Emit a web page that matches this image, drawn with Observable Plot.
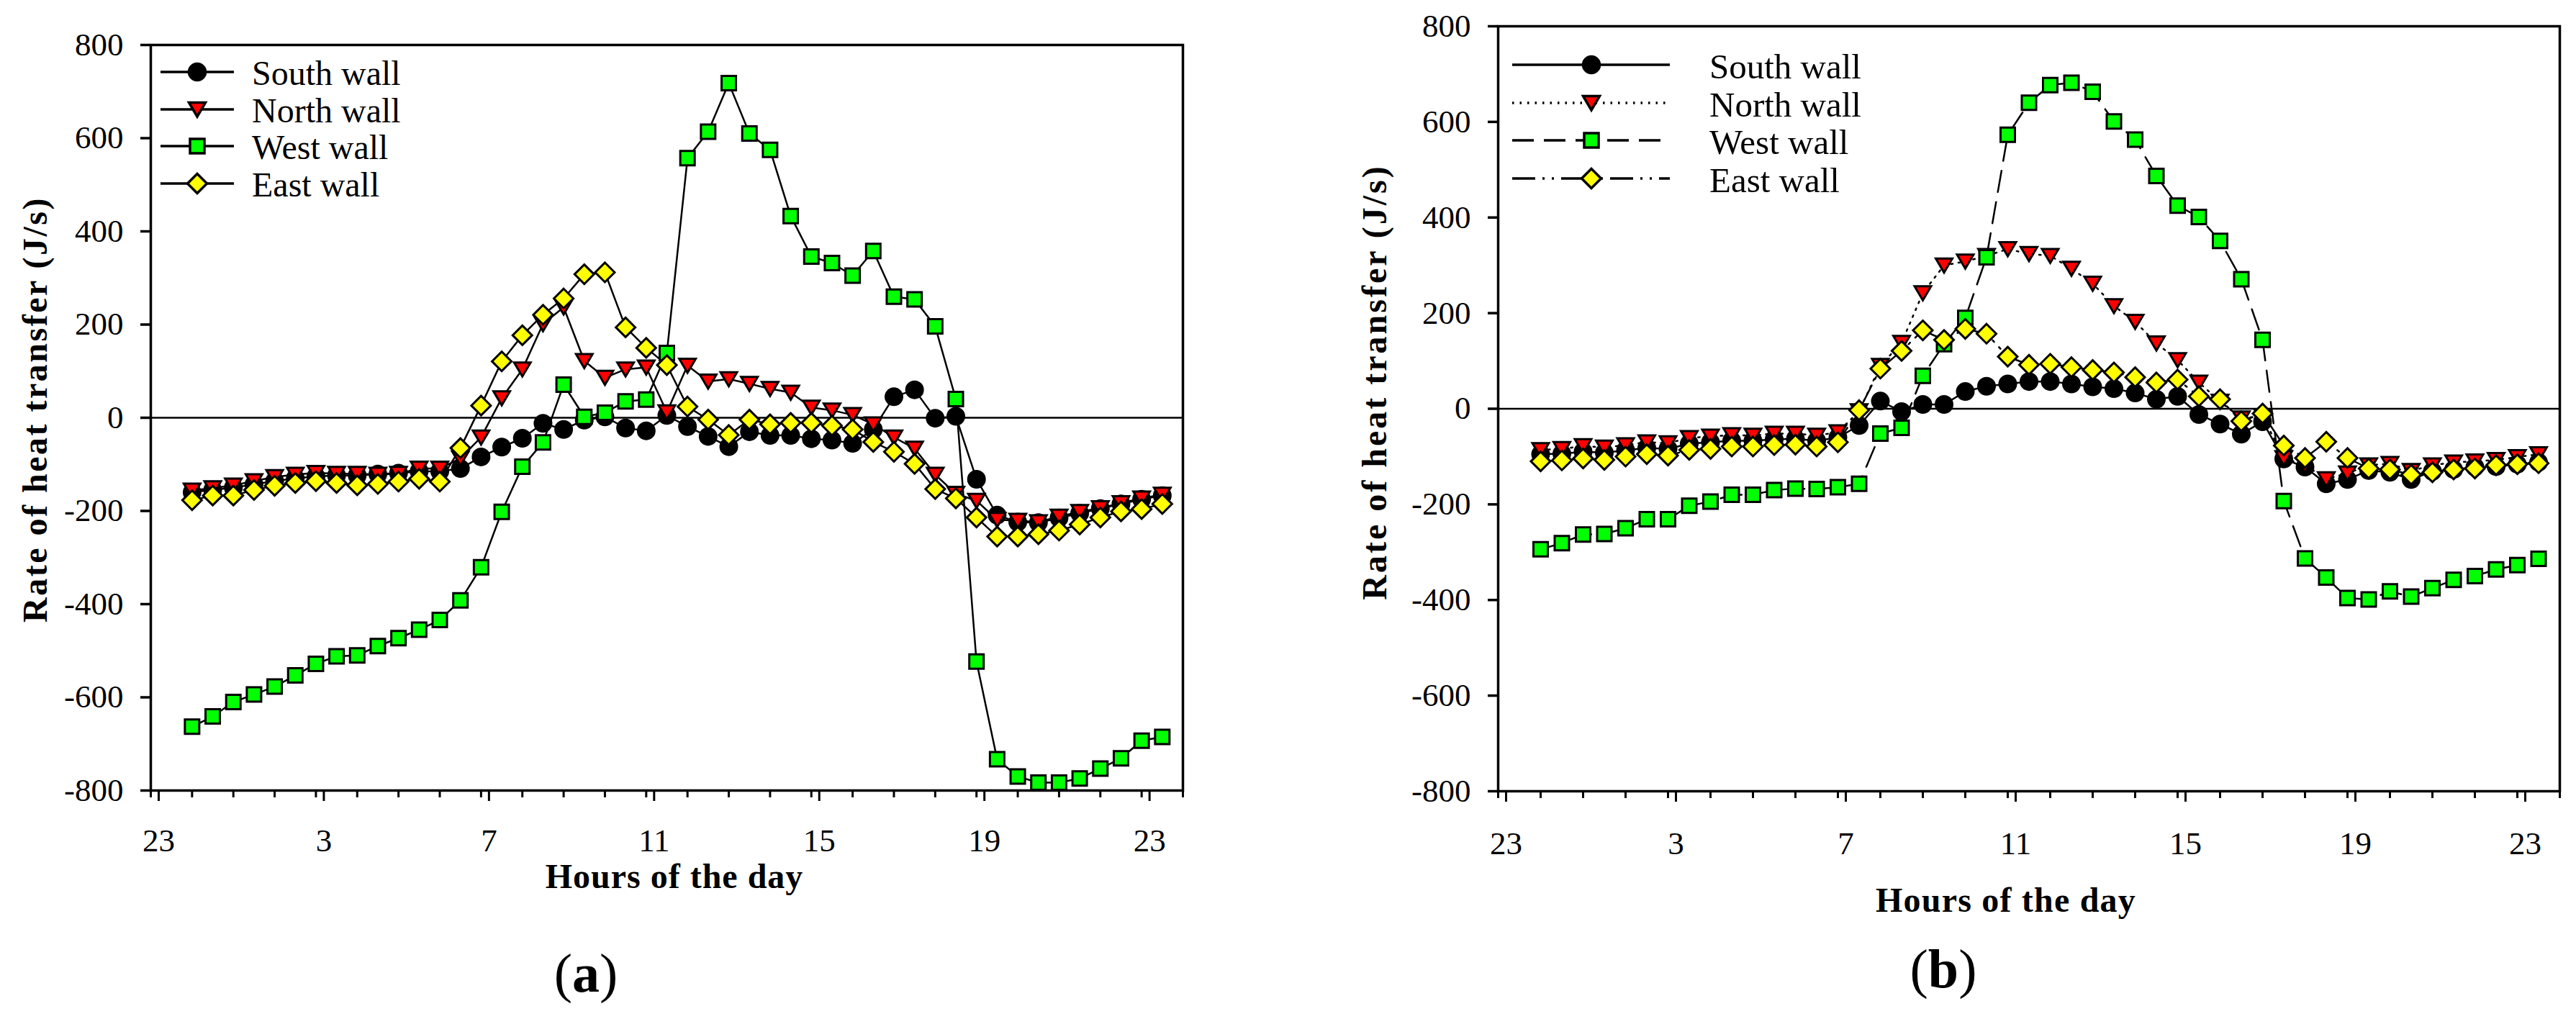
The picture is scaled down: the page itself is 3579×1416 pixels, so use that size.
<!DOCTYPE html>
<html>
<head>
<meta charset="utf-8">
<script src="https://cdn.jsdelivr.net/npm/d3@7"></script>
<script src="https://cdn.jsdelivr.net/npm/@observablehq/plot@0.6"></script>
<style>
html, body { margin: 0; padding: 0; background: #fff; width: 3579px; height: 1416px; overflow: hidden; font-family: "Liberation Serif", "DejaVu Serif", serif; }
.abs { position: absolute; white-space: nowrap; color: #000; line-height: 1; font-family: "Liberation Serif", "DejaVu Serif", serif; }
.title { font-weight: bold; }
svg { overflow: visible; }
svg text { font-family: "Liberation Serif", "DejaVu Serif", serif; }
</style>
</head>
<body>
<div id="panelA" class="abs" style="left:0px;top:0px"></div>
<div id="panelB" class="abs" style="left:1750px;top:0px"></div>
<svg id="legend" class="abs" style="left:0;top:0" width="3579" height="1416"></svg>
<div class="abs title" style="left:49px;top:569px;font-size:48px;letter-spacing:2.5px;transform:translate(-50%,-50%) rotate(-90deg)">Rate of heat transfer (J/s)</div>
<div class="abs title" style="left:937px;top:1218px;font-size:48px;letter-spacing:1px;transform:translate(-50%,-50%)">Hours of the day</div>
<div class="abs" style="left:814px;top:1352px;font-size:76px;transform:translate(-50%,-50%)">(<b>a</b>)</div>
<div class="abs title" style="left:1910px;top:531px;font-size:48px;letter-spacing:3px;transform:translate(-50%,-50%) rotate(-90deg)">Rate of heat transfer (J/s)</div>
<div class="abs title" style="left:2787px;top:1251px;font-size:48px;letter-spacing:1.2px;transform:translate(-50%,-50%)">Hours of the day</div>
<div class="abs" style="left:2700px;top:1346px;font-size:76px;transform:translate(-50%,-50%)">(<b>b</b>)</div>
<script>
// ---------------- data ----------------
const hours = [0, 0.5, 1, 1.5, 2, 2.5, 3, 3.5, 4, 4.5, 5, 5.5, 6, 6.5, 7, 7.5, 8, 8.5, 9, 9.5, 10, 10.5, 11, 11.5,
  12, 12.5, 13, 13.5, 14, 14.5, 15, 15.5, 16, 16.5, 17, 17.5, 18, 18.5, 19, 19.5, 20, 20.5, 21, 21.5, 22, 22.5, 23, 23.5];

const seriesNames = ["South wall", "North wall", "West wall", "East wall"];

const xTicks = [-1, 3, 7, 11, 15, 19, 23];
const xTickLabels = ["23", "3", "7", "11", "15", "19", "23"];
const xMinorTicks = [-1, 0, 1, 2, 3, 4, 5, 6, 7, 8, 9, 10, 11, 12, 13, 14, 15, 16, 17, 18, 19, 20, 21, 22, 23, 24];
const yTicks = [-800, -600, -400, -200, 0, 200, 400, 600, 800];

// panel (a)
const southA = [-160, -155, -150, -143, -136, -130, -126, -124, -124, -121, -119, -115, -115, -109, -84, -63, -44, -12, -25, -5, 2, -22, -28, 5,
  -19, -40, -62, -30, -38, -38, -45, -48, -55, -25, 45, 60, -1, 3, -132, -209, -224, -225, -215, -205, -195, -185, -175, -167];
const northA = [-156, -151, -145, -136, -127, -122, -118, -120, -120, -122, -120, -109, -109, -87, -42, 42, 104, 201, 237, 122, 86, 104, 108, 12,
  112, 78, 83, 73, 62, 54, 22, 16, 6, -14, -42, -66, -122, -163, -178, -219, -221, -224, -212, -202, -194, -183, -173, -165];
const westA = [-663, -641, -610, -594, -577, -553, -528, -512, -510, -490, -473, -455, -434, -392, -321, -202, -105, -53, 71, 2, 11, 35, 39, 139,
  557, 614, 718, 610, 575, 433, 346, 332, 305, 358, 260, 254, 196, 40, -523, -733, -770, -783, -783, -774, -753, -731, -693, -685];
const eastA = [-177, -167, -167, -155, -146, -140, -136, -140, -145, -142, -137, -131, -137, -65, 26, 121, 177, 221, 256, 308, 312, 194, 150, 113,
  24, -4, -37, -4, -14, -11, -11, -17, -25, -52, -73, -99, -153, -173, -214, -255, -255, -250, -242, -229, -214, -201, -196, -185];

// panel (b)
const southB = [-95, -94, -90, -92, -87, -82, -84, -73, -70, -67, -67, -64, -63, -67, -60, -35, 16, -6, 9, 9, 36, 47, 52, 57,
  57, 52, 46, 42, 33, 20, 26, -12, -32, -53, -27, -105, -122, -157, -148, -129, -133, -148, -131, -127, -122, -121, -116, -112];
const northB = [-86, -84, -78, -81, -76, -70, -72, -61, -58, -55, -56, -52, -52, -56, -49, -5, 90, 138, 242, 300, 308, 320, 334, 324,
  320, 293, 262, 215, 182, 137, 102, 55, 15, -20, -15, -103, -118, -147, -135, -118, -115, -130, -118, -112, -110, -107, -101, -95];
const westB = [-294, -281, -263, -262, -250, -231, -231, -203, -194, -180, -180, -170, -167, -168, -164, -157, -52, -40, 69, 135, 190, 317, 573, 640,
  677, 682, 663, 601, 563, 487, 425, 401, 351, 271, 144, -193, -313, -353, -396, -399, -382, -393, -375, -358, -350, -336, -327, -314];
const eastB = [-110, -108, -104, -107, -100, -95, -98, -86, -84, -79, -79, -76, -75, -79, -70, -3, 84, 121, 164, 144, 167, 157, 109, 92,
  94, 87, 81, 76, 66, 55, 61, 26, 20, -26, -10, -77, -103, -69, -103, -125, -127, -138, -133, -127, -125, -118, -116, -114];

// ---------------- styles ----------------
const serif = "Liberation Serif, DejaVu Serif, serif";
const fills = ["#000000", "#ff0000", "#00ff00", "#ffff00"];
const dashesB = [null, "2.5,8", "30,14", "32,10,3,10,3,10"];

const triDown = { draw(ctx) { ctx.moveTo(-11.5, -9.5); ctx.lineTo(11.5, -9.5); ctx.lineTo(0, 10); ctx.closePath(); } };
const squareSym = { draw(ctx) { ctx.moveTo(-10, -10); ctx.lineTo(10, -10); ctx.lineTo(10, 10); ctx.lineTo(-10, 10); ctx.closePath(); } };
const diamondSym = { draw(ctx) { ctx.moveTo(0, -13.5); ctx.lineTo(13.5, 0); ctx.lineTo(0, 13.5); ctx.lineTo(-13.5, 0); ctx.closePath(); } };
const circleSym = { draw(ctx) { ctx.moveTo(11.5, 0); ctx.arc(0, 0, 11.5, 0, 2 * Math.PI); ctx.closePath(); } };
const symbols = [circleSym, triDown, squareSym, diamondSym];

const xLabelMap = new Map(xTicks.map((t, i) => [t, xTickLabels[i]]));

function panel({values, dashes, width, height, margins, xPad}) {
  const marks = [Plot.ruleY([0], {stroke: "#000", strokeWidth: 2.5})];
  values.forEach((vals, k) => {
    const data = hours.map((h, i) => ({hour: h, value: vals[i], series: seriesNames[k]}));
    marks.push(Plot.line(data, {x: "hour", y: "value", stroke: "#000", strokeWidth: 2.5,
      strokeDasharray: dashes ? dashes[k] : null}));
    marks.push(Plot.dot(data, {x: "hour", y: "value", symbol: symbols[k], r: 12,
      fill: fills[k], stroke: "#000", strokeWidth: 3}));
  });
  marks.push(Plot.frame({stroke: "#000", strokeWidth: 3.5}));
  marks.push(Plot.axisY(yTicks, {tickSize: 14, tickPadding: 24, tickFormat: d => String(d),
    fontSize: 45, fontFamily: serif, strokeWidth: 3.5, label: null}));
  marks.push(Plot.axisX(xMinorTicks, {tickSize: 10, tickFormat: () => "", strokeWidth: 3, label: null}));
  marks.push(Plot.axisX(xTicks, {tickSize: 15, tickPadding: xPad, tickFormat: d => xLabelMap.get(d),
    fontSize: 45, fontFamily: serif, strokeWidth: 3, dx: 11, label: null}));
  return Plot.plot({
    width, height,
    marginLeft: margins[0], marginTop: margins[1], marginRight: margins[2], marginBottom: margins[3],
    x: {domain: [-1, 24], label: null},
    y: {domain: [-800, 800], label: null},
    style: {fontFamily: serif, fontSize: "45px", background: "transparent", overflow: "visible", color: "#000"},
    marks
  });
}

document.getElementById("panelA").appendChild(panel({
  values: [southA, northA, westA, eastA], dashes: null,
  width: 1700, height: 1200, margins: [209, 62, 57, 102], xPad: 38
}));
document.getElementById("panelB").appendChild(panel({
  values: [southB, northB, westB, eastB], dashes: dashesB,
  width: 1829, height: 1200, margins: [331, 36, 23, 101], xPad: 41
}));

// ---------------- legends ----------------
const svg = d3.select("#legend");
function legend({x1, x2, xm, rows, tx, fontSize, base, dashes}) {
  seriesNames.forEach((name, k) => {
    const y = rows[k];
    svg.append("line").attr("x1", x1).attr("x2", x2).attr("y1", y).attr("y2", y)
      .attr("stroke", "#000").attr("stroke-width", 3.5)
      .attr("stroke-dasharray", dashes ? dashes[k] : null);
    svg.append("path").attr("d", d3.symbol(symbols[k], 100)())
      .attr("transform", `translate(${xm},${y})`)
      .attr("fill", fills[k]).attr("stroke", "#000").attr("stroke-width", 3.5);
    svg.append("text").attr("x", tx).attr("y", y + base).text(name)
      .attr("font-family", serif).attr("font-size", fontSize).attr("fill", "#000");
  });
}
legend({x1: 223, x2: 325, xm: 274, rows: [100, 152, 203, 255], tx: 350, fontSize: 48, base: 18, dashes: null});
legend({x1: 2101, x2: 2320, xm: 2211, rows: [90, 143, 195, 248], tx: 2375, fontSize: 49, base: 19, dashes: dashesB});
</script>
</body>
</html>
